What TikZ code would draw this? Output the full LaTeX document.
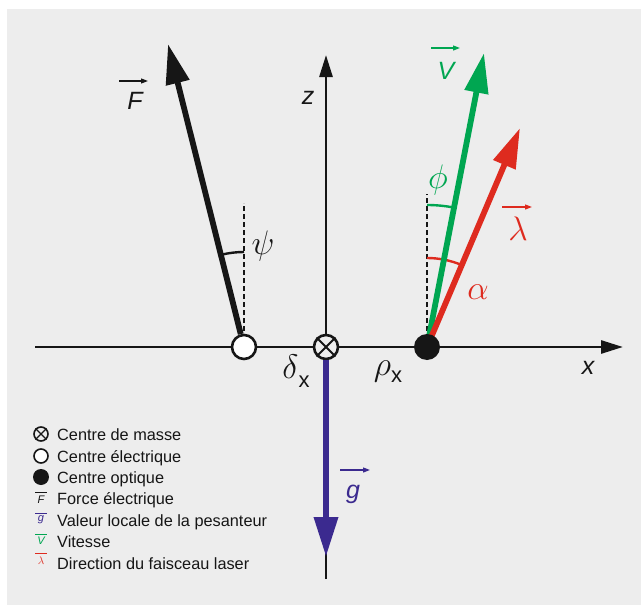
\documentclass[tikz,border=0pt]{standalone}
\usepackage{fix-cm}
\usepackage{fontspec}
\setmainfont{Liberation Sans}
\usetikzlibrary{arrows.meta,calc}
\definecolor{bgc}{HTML}{EDEDED}
\definecolor{ink}{HTML}{161616}
\definecolor{vgreen}{HTML}{00A651}
\definecolor{lred}{HTML}{DE2B1F}
\definecolor{gblue}{HTML}{3B2A8F}
\begin{document}
\begin{tikzpicture}[x=1pt,y=1pt,
  axis/.style={draw=ink,line width=2.7pt,-{Triangle[length=22pt,width=13pt]}},
  bigvec/.style={line width=5.8pt,-{Triangle[length=40pt,width=23pt]}},
  dashline/.style={draw=ink,line width=2.3pt,dash pattern=on 5pt off 3pt},
  anglearc/.style={line width=2.4pt},
  lbl/.style={inner sep=0pt,font=\fontsize{25}{25}\selectfont\itshape},
  greek/.style={inner sep=0pt,font=\fontsize{34}{34}\selectfont},
  vecmark/.style={line width=1.2pt,-{Triangle[length=7pt,width=5pt]}},
  legtext/.style={anchor=base west,inner sep=0pt,text=ink,font=\fontsize{16.3}{16.3}\selectfont},
  legvec/.style={inner sep=0pt,font=\fontsize{11}{11}\selectfont\itshape},
  legbar/.style={line width=1pt},
  bigcirc/.style={circle,draw=ink,line width=2.6pt,minimum size=24pt,inner sep=0pt},
  smallcirc/.style={circle,draw=ink,line width=1.6pt,minimum size=14pt,inner sep=0pt}]
\useasboundingbox (0,0) rectangle (641,-605);
\fill[bgc] (7,-9) rectangle (641,-605);

% coordinates
\coordinate (xl) at (35,-347);
\coordinate (xr) at (623,-347);
\coordinate (zb) at (326,-579);
\coordinate (zt) at (326,-55);
\coordinate (Oc) at (427,-347);
\coordinate (Ec) at (244,-347);
\coordinate (Ftip) at (168,-44);
\coordinate (Vtip) at (484,-53);
\coordinate (Ltip) at (520,-128);
\coordinate (gtip) at (326,-557);
\coordinate (psitop) at (244,-203);
\coordinate (phitop) at (427,-194);

% axes
\draw[axis] (xl) -- (xr);
\draw[axis] (zb) -- (zt);

% dashed verticals
\draw[dashline] (Ec) -- (psitop);
\draw[dashline] (Oc) -- (phitop);

% angle arcs
\draw[anglearc,ink] (Ec) ++(90:95) arc[start angle=90,end angle=104.1,radius=95];
\draw[anglearc,vgreen] (Oc) ++(90:142) arc[start angle=90,end angle=79,radius=142];
\draw[anglearc,lred] (Oc) ++(90:89) arc[start angle=90,end angle=67,radius=89];

% vectors from the optical centre
\draw[bigvec,vgreen] (Oc) -- (Vtip);
\draw[bigvec,lred] (Oc) -- (Ltip);

% points
\node[bigcirc,fill=white] (E) at (Ec) {};
\node[bigcirc,fill=bgc] (M) at (326,-347) {};
\draw[ink,line width=2pt] (M.45) -- (M.225) (M.135) -- (M.315);
\node[circle,fill=ink,minimum size=26pt,inner sep=0pt] (O) at (Oc) {};

% force and gravity vectors
\draw[bigvec,ink] (E) -- (Ftip);
\draw[bigvec,gblue,line width=6.5pt] (M) -- (gtip);

% labels
\node[lbl,text=ink] (Fl) at (135,-101) {F};
\draw[vecmark,ink] (119,-81) -- (148,-81);
\node[lbl,text=vgreen] (Vl) at (446,-71) {V};
\draw[vecmark,vgreen] (431,-48) -- (460,-48);
\node[greek,text=lred] (Ll) at (518,-229) {$\lambda$};
\draw[vecmark,lred] (502,-207) -- (532,-207);
\node[lbl,text=gblue] (gl) at (353,-494) {g};
\draw[vecmark,gblue] (340,-470) -- (370,-470);

\node[greek,text=ink] (psil) at (263,-246) {$\psi$};
\node[greek,text=vgreen] (phil) at (438,-180) {$\phi$};
\node[greek,text=lred] (alphal) at (478,-292) {$\alpha$};
\node[greek,text=ink] (deltal) at (296,-371) {$\delta$\raisebox{-9pt}{\fontsize{22}{22}\selectfont x}};
\node[greek,text=ink] (rhol) at (388,-372) {$\rho$\raisebox{-7pt}{\fontsize{22}{22}\selectfont x}};
\node[lbl,text=ink] (xlab) at (588,-368) {x};
\node[lbl,text=ink] (zlab) at (308,-98) {z};

% legend
\node[smallcirc,fill=bgc] (lm) at (41,-434) {};
\draw[ink,line width=1.3pt] (lm.45) -- (lm.225) (lm.135) -- (lm.315);
\node[legtext] (t1) at (57,-440) {Centre de masse};
\node[smallcirc,fill=white] (le) at (41,-456) {};
\node[legtext] (t2) at (57,-462) {Centre électrique};
\node[circle,fill=ink,minimum size=16pt,inner sep=0pt] (lo) at (41,-477) {};
\node[legtext] (t3) at (57,-483) {Centre optique};
\node[legvec,text=ink] (lF) at (41,-500) {F};
\draw[legbar,ink] (35,-492) -- (47,-492);
\node[legtext] (t4) at (57,-504) {Force électrique};
\node[legvec,text=gblue] (lg) at (41,-520) {g};
\draw[legbar,gblue] (35,-513) -- (47,-513);
\node[legtext] (t5) at (57,-526) {Valeur locale de la pesanteur};
\node[legvec,text=vgreen] (lV) at (41,-541) {V};
\draw[legbar,vgreen] (35,-534) -- (47,-534);
\node[legtext] (t6) at (57,-547) {Vitesse};
\node[legvec,text=lred] (lL) at (41,-561) {$\lambda$};
\draw[legbar,lred] (35,-553) -- (47,-553);
\node[legtext] (t7) at (57,-569) {Direction du faisceau laser};
\end{tikzpicture}
\end{document}
